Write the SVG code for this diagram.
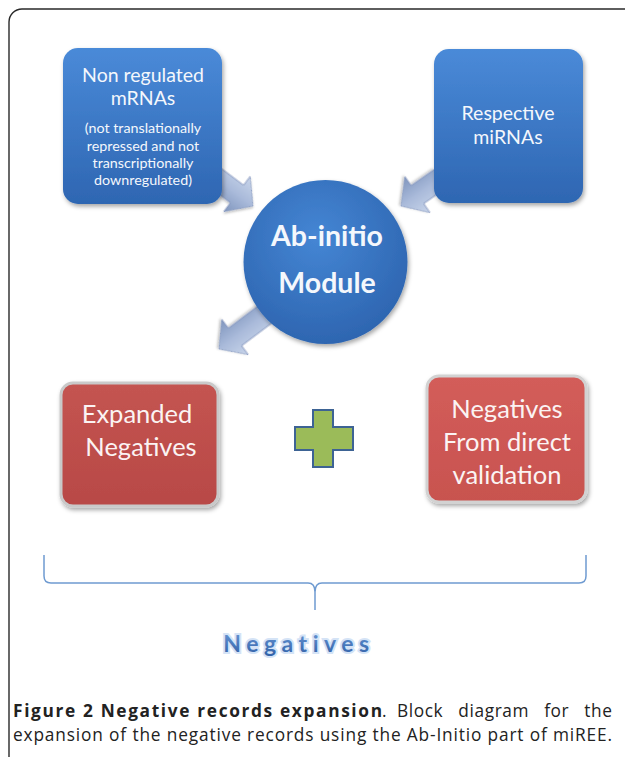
<svg xmlns="http://www.w3.org/2000/svg" width="625" height="757" viewBox="0 0 625 757">
<defs>
<linearGradient id="gBlue" x1="0" y1="0" x2="0" y2="1">
<stop offset="0" stop-color="#4a8ad8"/><stop offset="1" stop-color="#2e66b2"/>
</linearGradient>
<radialGradient id="gCirc" cx="0.45" cy="0.35" r="0.7">
<stop offset="0" stop-color="#4586d4"/><stop offset="1" stop-color="#2c63ae"/>
</radialGradient>
<linearGradient id="gRed1" x1="0" y1="0" x2="0" y2="1">
<stop offset="0" stop-color="#c45451"/><stop offset="1" stop-color="#b84946"/>
</linearGradient>
<linearGradient id="gRed2" x1="0" y1="0" x2="0" y2="1">
<stop offset="0" stop-color="#d35d5a"/><stop offset="1" stop-color="#c8534f"/>
</linearGradient>
<linearGradient id="gArrow" x1="0" y1="0" x2="0" y2="1">
<stop offset="0" stop-color="#c9d5ea"/><stop offset="0.5" stop-color="#a9bada"/><stop offset="1" stop-color="#7f95bd"/>
</linearGradient>
<linearGradient id="gNeg" x1="0" y1="0" x2="0" y2="1">
<stop offset="0" stop-color="#6b9ad8"/><stop offset="1" stop-color="#2f5fa6"/>
</linearGradient>
<filter id="sh" x="-20%" y="-20%" width="140%" height="140%">
<feDropShadow dx="1.5" dy="2.5" stdDeviation="2" flood-color="#000" flood-opacity="0.35"/>
</filter>
<filter id="shA" x="-20%" y="-40%" width="140%" height="180%">
<feDropShadow dx="1" dy="1.5" stdDeviation="1.2" flood-color="#000" flood-opacity="0.25"/>
</filter>
</defs>
<style>
.frame{fill:none;stroke:#2a2a2a;stroke-width:1.4}
.blue{fill:url(#gBlue);filter:url(#sh)}
.arrow{fill:url(#gArrow);stroke:#8598bf;stroke-width:0.8;filter:url(#shA)}
.red1{fill:url(#gRed1);stroke:#c9c9c9;stroke-width:3;filter:url(#sh)}
.red2{fill:url(#gRed2);stroke:#d2d2d2;stroke-width:3;filter:url(#sh)}
.wt{fill:#f4f7fc;font-family:Lato,"Liberation Sans",sans-serif;text-anchor:middle}
.rt{fill:#fbf3f3;font-family:Lato,"Liberation Sans",sans-serif;text-anchor:middle;font-size:25.5px}
.brace{fill:none;stroke:#6f9bd1;stroke-width:1.5}
.cap{font-family:"Open Sans","Noto Sans",sans-serif;font-size:17.3px;fill:#222}
</style>
<rect class="frame" x="9" y="9" width="640" height="780" rx="13"/>
<g id="connectors">
<polygon class="arrow" transform="translate(253,206) rotate(36.9)" points="-48,-11 -20,-11 -20,-22 0,0 -20,22 -20,11 -48,11"/>
<polygon class="arrow" transform="translate(401,206) rotate(145.2)" points="-48,-11 -20,-11 -20,-22 0,0 -20,22 -20,11 -48,11"/>
<polygon class="arrow" transform="translate(219,349) rotate(143.1)" points="-80,-11 -20,-11 -20,-22 0,0 -20,22 -20,11 -80,11"/>
</g>
<g id="nonregulated">
<rect class="blue" x="63" y="48" width="159" height="156" rx="15"/>
<text class="wt" x="143" y="82" font-size="19.5">Non regulated</text>
<text class="wt" x="143" y="105" font-size="19.5">mRNAs</text>
<text class="wt" x="143" y="133" font-size="14.3">(not translationally</text>
<text class="wt" x="143" y="151" font-size="14.3">repressed and not</text>
<text class="wt" x="143" y="168" font-size="14.3">transcriptionally</text>
<text class="wt" x="143" y="185" font-size="14.3">downregulated)</text>
</g>
<g id="respective">
<rect class="blue" x="434" y="49" width="149" height="154" rx="15"/>
<text class="wt" x="508" y="120" font-size="19.5">Respective</text>
<text class="wt" x="508" y="144" font-size="19.5">miRNAs</text>
</g>
<g id="abinitio">
<circle cx="325.5" cy="262" r="82" fill="url(#gCirc)" filter="url(#sh)"/>
<text class="wt" x="327" y="246" font-size="28.5" font-weight="bold">Ab-initio</text>
<text class="wt" x="327" y="293" font-size="28.5" font-weight="bold">Module</text>
</g>
<g id="expanded">
<rect class="red1" x="61" y="383" width="157" height="123" rx="12"/>
<text class="rt" x="137" y="423">Expanded</text>
<text class="rt" x="141" y="456">Negatives</text>
</g>
<g id="plus">
<polygon fill="#9bbb59" stroke="#3d6394" stroke-width="2" points="313,410 333,410 333,427 353,427 353,450 333,450 333,467 313,467 313,450 295,450 295,427 313,427"/>
</g>
<g id="direct">
<rect class="red2" x="427" y="376" width="159" height="126" rx="12"/>
<text class="rt" x="507" y="418">Negatives</text>
<text class="rt" x="507" y="451">From direct</text>
<text class="rt" x="507" y="484">validation</text>
</g>
<g id="negatives">
<path class="brace" d="M44,555 L44,576 Q44,583 51,583 L308,583 Q315,583 315,592 L315,610 M315,610 L315,592 Q315,583 322,583 L579,583 Q586,583 586,576 L586,555"/>
<text x="299" y="652" text-anchor="middle" font-family="Lato,'Liberation Sans',sans-serif" font-size="23" font-weight="bold" letter-spacing="5.5" fill="url(#gNeg)" stroke="#d4e3f6" stroke-width="4" paint-order="stroke">Negatives</text>
</g>
<text class="cap" x="13" y="717" font-weight="bold" textLength="369" lengthAdjust="spacing">Figure 2 Negative records expansion</text>
<text class="cap" x="382" y="717">.</text>
<text class="cap" x="397" y="717" word-spacing="10" textLength="215" lengthAdjust="spacing">Block diagram for the</text>
<text class="cap" x="13" y="741" textLength="599" lengthAdjust="spacing">expansion of the negative records using the Ab-Initio part of miREE.</text>
</svg>
